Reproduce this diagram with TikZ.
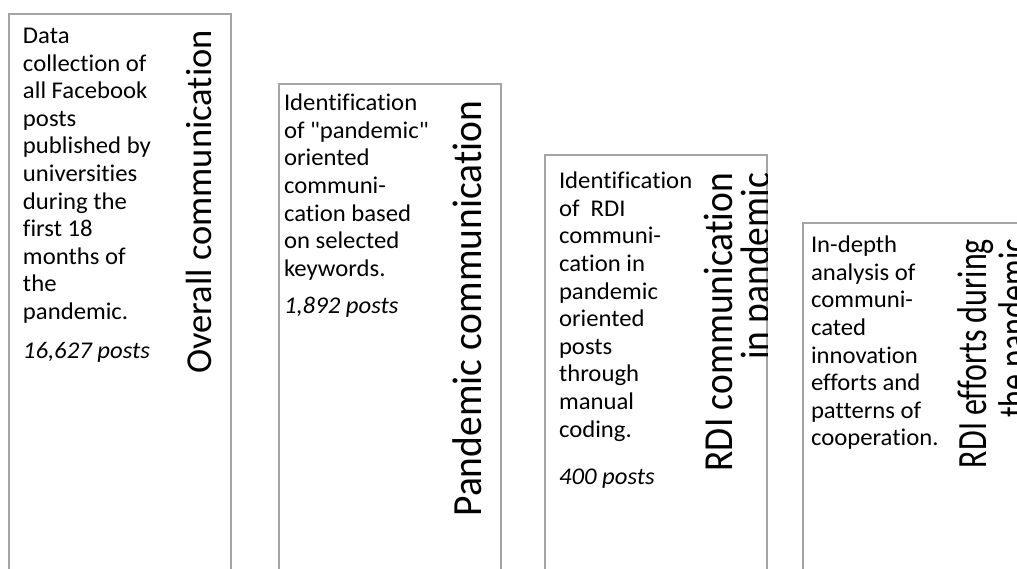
\documentclass[tikz,border=0pt]{standalone}
\usepackage{fontspec}
\setmainfont{Carlito}[Ligatures=NoCommon, FakeStretch=1.03]
\newfontfamily\titlefont{Carlito}[Ligatures=NoCommon]
\usetikzlibrary{positioning}

\definecolor{boxgray}{RGB}{165,165,165}

\begin{document}
\begin{tikzpicture}[x=1pt, y=1pt,
    every node/.style={inner sep=0pt, outer sep=0pt},
    stage/.style={draw=boxgray, line width=1.2pt, anchor=north west, minimum width=222pt, minimum height=600pt},
    desc/.style={anchor=north west, align=left, font=\fontsize{24}{27.6}\selectfont},
    title/.style={anchor=north east, rotate=90, align=right, font=\titlefont\fontsize{36}{38}\selectfont}]
  \clip (0,0) rectangle (1017,-568);

  % Cajas
  \node[stage] (c1) at (9,-14) {};
  \node[stage] (c2) at (279,-84) {};
  \node[stage] (c3) at (545,-155) {};
  \node[stage, minimum width=260pt] (c4) at (803,-223) {};

  % Textos
  \node[desc] (t1) at (23,-28) {Data\\collection of\\all Facebook\\posts\\published by\\universities\\during the\\first 18\\months of\\the\\pandemic.\\[11pt]\textit{16,627 posts}};
  \node[desc] (t2) at (284,-94) {Identification\\of \textquotedbl pandemic\textquotedbl\\oriented\\communi-\\cation based\\on selected\\keywords.\\[10pt]\textit{1,892 posts}};
  \node[desc] (t3) at (559,-172) {Identification\\of\ \ RDI\\communi-\\cation in\\pandemic\\oriented\\posts\\through\\manual\\coding.\\[20pt]\textit{400 posts}};
  \node[desc] (t4) at (811,-236) {In-depth\\analysis of\\communi-\\cated\\innovation\\efforts and\\patterns of\\cooperation.};

  % Titulos
  \node[title, font=\titlefont\fontsize{36.5}{38}\selectfont] (r1) at (186,-30) {Overall communication};
  \node[title, font=\titlefont\fontsize{39.5}{38}\selectfont, yscale=1.05] (r2) at (453,-101) {Pandemic communication};
  \begin{scope}
    \clip (c3.north west) rectangle (c3.south east);
    \node[title, font=\titlefont\fontsize{37.5}{33.6}\selectfont, yscale=1.1] (r3) at (704,-173) {RDI communication\\in pandemic};
  \end{scope}
  \node[title, font=\titlefont\fontsize{32}{31.5}\selectfont, yscale=1.3] (r4) at (958,-239) {RDI efforts during\\the pandemic};
\end{tikzpicture}
\end{document}
